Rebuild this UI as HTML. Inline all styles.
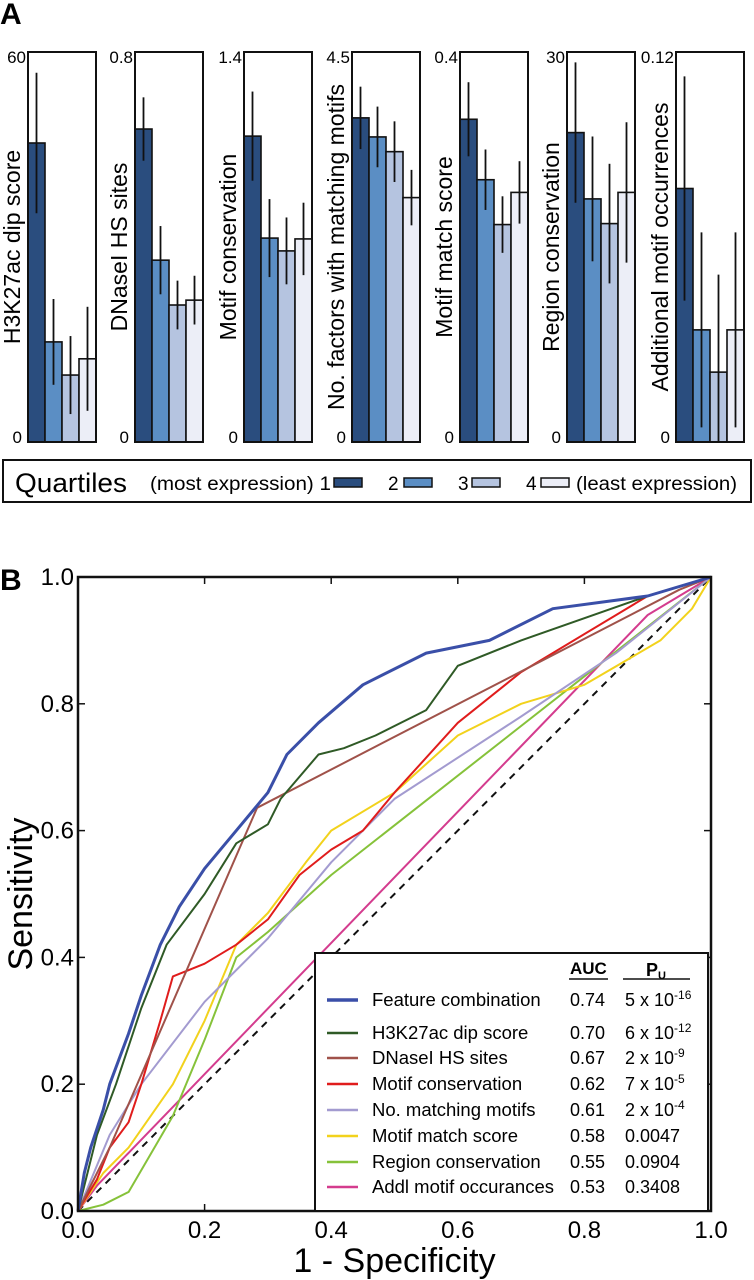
<!DOCTYPE html>
<html><head><meta charset="utf-8"><style>
html,body{margin:0;padding:0;background:#fff;}
svg{display:block;font-family:"Liberation Sans",sans-serif;}
</style></head><body>
<svg id="fig" width="754" height="1280" viewBox="0 0 754 1280" xmlns="http://www.w3.org/2000/svg">
<text x="0" y="24" font-size="30" font-weight="bold">A</text>
<text x="0" y="590" font-size="30" font-weight="bold">B</text>
<g id="panelA"></g>
<g>
<rect x="3" y="460" width="748" height="42" fill="#fff" stroke="#111" stroke-width="2"/>
<text x="15" y="492" font-size="27" textLength="112" lengthAdjust="spacingAndGlyphs">Quartiles</text>
<text x="150" y="490" font-size="19" textLength="181" lengthAdjust="spacingAndGlyphs">(most expression) 1</text>
<rect x="334" y="478" width="28" height="9" fill="#2a4d7e" stroke="#111" stroke-width="1.5"/>
<text x="388" y="490" font-size="19">2</text>
<rect x="404" y="478" width="28" height="9" fill="#5b8ec4" stroke="#111" stroke-width="1.5"/>
<text x="458" y="490" font-size="19">3</text>
<rect x="472" y="478" width="28" height="9" fill="#b5c4e0" stroke="#111" stroke-width="1.5"/>
<text x="526" y="490" font-size="19">4</text>
<rect x="541" y="478" width="28" height="9" fill="#eceef7" stroke="#111" stroke-width="1.5"/>
<text x="576" y="490" font-size="19" textLength="161" lengthAdjust="spacingAndGlyphs">(least expression)</text>
</g>
<g id="panelB"></g>
</svg>
<script>
const NS="http://www.w3.org/2000/svg";
function mk(tag,attrs,parent){const e=document.createElementNS(NS,tag);for(const k in attrs)e.setAttribute(k,attrs[k]);parent.appendChild(e);return e;}

// ---------- Panel A data ----------
const featureNames=["H3K27ac  dip score","DNaseI HS sites","Motif conservation","No. factors with matching motifs","Motif match score","Region conservation","Additional motif occurrences"];
const axisMax=[60,0.8,1.4,4.5,0.4,30,0.12];
const axisMaxLabels=["60","0.8","1.4","4.5","0.4","30","0.12"];
const q1Values=[46,0.642,1.098,3.74,0.331,23.8,0.078];
const q2Values=[15.4,0.373,0.732,3.52,0.269,18.7,0.0345];
const q3Values=[10.3,0.281,0.686,3.35,0.223,16.8,0.0215];
const q4Values=[12.8,0.291,0.729,2.82,0.256,19.2,0.0345];
const q1Err=[10.8,0.065,0.16,0.36,0.038,5.4,0.0345];
const q2Err=[6.6,0.07,0.14,0.35,0.031,4.8,0.03];
const q3Err=[6,0.05,0.12,0.35,0.029,4.6,0.03];
const q4Err=[8,0.05,0.13,0.32,0.032,5.4,0.03];
const quartileColors=["#2a4d7e","#5b8ec4","#b5c4e0","#eceef7"];

const boxLefts=[28,135,244,352,460,567,676];
const boxW=68, boxTop=52, boxBot=442;
const pA=document.getElementById('panelA');
const vals=[q1Values,q2Values,q3Values,q4Values], errs=[q1Err,q2Err,q3Err,q4Err];
for(let i=0;i<featureNames.length;i++){
  const L=boxLefts[i];
  const g=mk('g',{},pA);
  
  
  const yS=v=>boxBot-(v/axisMax[i])*(boxBot-boxTop);
  const bw=boxW/4;
  for(let q=0;q<4;q++){
    const v=vals[q][i], e=errs[q][i];
    const r=mk('rect',{x:L+q*bw,y:yS(v),width:bw,height:boxBot-yS(v),fill:quartileColors[q],stroke:'#111','stroke-width':1.6},g);
    
    
    const el=mk('line',{x1:L+q*bw+bw/2,x2:L+q*bw+bw/2,y1:yS(Math.min(v+e,axisMax[i])),y2:yS(Math.max(v-e,0)),stroke:'#111','stroke-width':1.8},g);
    
    
  }
  const fr=mk('rect',{x:L,y:boxTop,width:boxW,height:boxBot-boxTop,fill:'none',stroke:'#111','stroke-width':2},g);
  
  
  const t1=mk('text',{x:L-2,y:boxTop+11,'font-size':17,'text-anchor':'end'},g);t1.textContent=axisMaxLabels[i];
  
  
  const t0=mk('text',{x:L-6,y:boxBot+1,'font-size':17,'text-anchor':'end'},g);t0.textContent='0';
  
  
  const yl=mk('text',{x:0,y:0,'font-size':23,'text-anchor':'middle',transform:`translate(${L-8},247) rotate(-90)`},g);yl.textContent=featureNames[i];
  
  
}

// ---------- Panel B data ----------
const seriesNames=["Feature combination","H3K27ac  dip score","DNaseI HS sites","Motif conservation","No. matching motifs","Motif match score","Region conservation","Addl motif occurances"];
const aucLabels=["0.74","0.70","0.67","0.62","0.61","0.58","0.55","0.53"];
const pLabels=[["5 x 10","-16"],["6 x 10","-12"],["2 x 10","-9"],["7 x 10","-5"],["2 x 10","-4"],["0.0047",""],["0.0904",""],["0.3408",""]];
const seriesColors=["#3a4fa8","#2f5a26","#a0524a","#e01c1c","#a39bd0","#f2d21c","#86c23a","#d43c8e"];
const seriesWidth=[3,2,2,2,2,2,2,2];
const fprBlue=[0,0.01,0.02,0.04,0.05,0.08,0.1,0.13,0.16,0.2,0.25,0.3,0.33,0.38,0.45,0.55,0.65,0.75,0.9,1];
const tprBlue=[0,0.06,0.1,0.16,0.2,0.28,0.34,0.42,0.48,0.54,0.6,0.66,0.72,0.77,0.83,0.88,0.9,0.95,0.97,1];
const fprGreen=[0,0.03,0.06,0.1,0.14,0.2,0.25,0.3,0.32,0.38,0.42,0.47,0.55,0.6,0.7,0.9,1];
const tprGreen=[0,0.12,0.2,0.32,0.42,0.5,0.58,0.61,0.65,0.72,0.73,0.75,0.79,0.86,0.9,0.97,1];
const fprBrown=[0,0.05,0.283,0.95,1];
const tprBrown=[0,0.1,0.636,0.98,1];
const fprRed=[0,0.03,0.05,0.08,0.1,0.13,0.15,0.2,0.25,0.3,0.35,0.4,0.45,0.5,0.6,0.7,0.9,1];
const tprRed=[0,0.05,0.1,0.14,0.2,0.3,0.37,0.39,0.42,0.46,0.53,0.57,0.6,0.66,0.77,0.85,0.97,1];
const fprLav=[0,0.05,0.1,0.2,0.3,0.4,0.5,0.7,0.85,1];
const tprLav=[0,0.12,0.2,0.33,0.43,0.55,0.65,0.78,0.88,1];
const fprYel=[0,0.04,0.08,0.15,0.2,0.25,0.3,0.36,0.4,0.5,0.6,0.7,0.8,0.92,0.97,1];
const tprYel=[0,0.06,0.1,0.2,0.3,0.42,0.47,0.55,0.6,0.66,0.75,0.8,0.83,0.9,0.95,1];
const fprLg=[0,0.04,0.08,0.15,0.2,0.25,0.3,0.4,1];
const tprLg=[0,0.01,0.03,0.15,0.27,0.4,0.44,0.53,1];
const fprMag=[0,0.03,0.9,1];
const tprMag=[0,0.04,0.94,1];
const allFpr=[fprBlue,fprGreen,fprBrown,fprRed,fprLav,fprYel,fprLg,fprMag];
const allTpr=[tprBlue,tprGreen,tprBrown,tprRed,tprLav,tprYel,tprLg,tprMag];
const tickValues=[0,0.2,0.4,0.6,0.8,1.0];
const tickLabels=["0.0","0.2","0.4","0.6","0.8","1.0"];

const X0=78,X1=711,Y0=1211,Y1=577;
const xS=v=>X0+v*(X1-X0), yS=v=>Y0-v*(Y0-Y1);
const pB=document.getElementById('panelB');
const diag=mk('line',{x1:xS(0),y1:yS(0),x2:xS(1),y2:yS(1),stroke:'#111','stroke-width':2,'stroke-dasharray':'7,6'},pB);


const order=[7,6,5,4,3,2,1,0];
for(const s of order){
  const pts=allFpr[s].map((f,k)=>xS(f).toFixed(1)+','+yS(allTpr[s][k]).toFixed(1)).join(' ');
  const pl=mk('polyline',{points:pts,fill:'none',stroke:seriesColors[s],'stroke-width':seriesWidth[s],'stroke-linejoin':'round'},pB);
  
  
}
const frame=mk('rect',{x:X0,y:Y1,width:X1-X0,height:Y0-Y1,fill:'none',stroke:'#111','stroke-width':2.5},pB);


for(let i=0;i<tickValues.length;i++){
  const v=tickValues[i];
  mk('line',{x1:xS(v),x2:xS(v),y1:Y0,y2:Y0-7,stroke:'#111','stroke-width':1.5},pB);
  mk('line',{x1:xS(v),x2:xS(v),y1:Y1,y2:Y1+7,stroke:'#111','stroke-width':1.5},pB);
  mk('line',{x1:X0,x2:X0+7,y1:yS(v),y2:yS(v),stroke:'#111','stroke-width':1.5},pB);
  mk('line',{x1:X1,x2:X1-7,y1:yS(v),y2:yS(v),stroke:'#111','stroke-width':1.5},pB);
  const tx=mk('text',{x:xS(v),y:Y0+27,'font-size':24,'text-anchor':'middle'},pB);tx.textContent=tickLabels[i];
  
  
  const ty=mk('text',{x:X0-4,y:yS(v)+8,'font-size':24,'text-anchor':'end'},pB);ty.textContent=tickLabels[i];
  
  
}
const xt=mk('text',{x:(X0+X1)/2,y:1272,'font-size':34,'text-anchor':'middle'},pB);xt.textContent='1 - Specificity';


const yt=mk('text',{x:0,y:0,'font-size':34,'text-anchor':'middle',transform:'translate(32,894) rotate(-90)'},pB);yt.textContent='Sensitivity';



// legend
const lg=mk('g',{},pB);


mk('rect',{x:315,y:953,width:393,height:258,fill:'#fff',stroke:'#111','stroke-width':2},lg);
const ha=mk('text',{x:570,y:974,'font-size':17,'font-weight':'bold'},lg);ha.textContent='AUC';


mk('line',{x1:569,x2:608,y1:979,y2:979,stroke:'#111','stroke-width':1.5},lg);
const hp=mk('text',{x:646,y:976,'font-size':18,'font-weight':'bold'},lg);hp.textContent='P';


const hs=mk('text',{x:658,y:979,'font-size':11,'font-weight':'bold'},lg);hs.textContent='U';
mk('line',{x1:623,x2:690,y1:979,y2:979,stroke:'#111','stroke-width':1.5},lg);
const rowY=[1000,1033,1058,1084,1110,1136,1162,1187];
for(let s=0;s<seriesNames.length;s++){
  const y=rowY[s];
  const ln=mk('line',{x1:327,x2:358,y1:y,y2:y,stroke:seriesColors[s],'stroke-width':s===0?3.5:2.5},lg);
  
  
  const t=mk('text',{x:372,y:y+6,'font-size':18.5},lg);t.textContent=seriesNames[s];
  
  
  const a=mk('text',{x:570,y:y+6,'font-size':18},lg);a.textContent=aucLabels[s];
  
  
  const p=mk('text',{x:625,y:y+6,'font-size':18},lg);p.textContent=pLabels[s][0];
  
  
  if(pLabels[s][1]){const sp=mk('tspan',{dy:-7,'font-size':12},p);sp.textContent=pLabels[s][1];}
}
</script>
</body></html>
